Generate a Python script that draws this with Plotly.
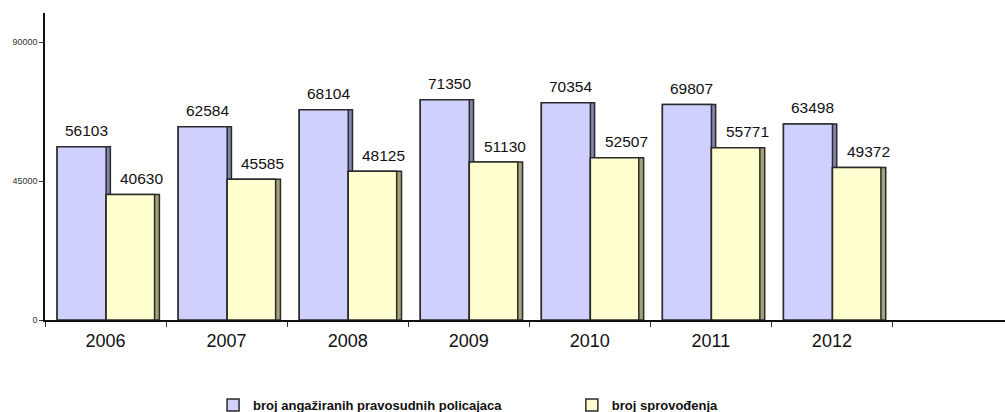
import plotly.graph_objects as go

years = ["2006", "2007", "2008", "2009", "2010", "2011", "2012"]
policajci = [56103, 62584, 68104, 71350, 70354, 69807, 63498]
sprovodjenja = [40630, 45585, 48125, 51130, 52507, 55771, 49372]

name_a = "broj angažiranih pravosudnih policajaca"
name_b = "broj sprovođenja"

x = list(range(len(years)))
line = dict(color="#2b2b2b", width=1.5)

fig = go.Figure()

# fake 3D depth: darker strip behind each bar, shifted right a few pixels
fig.add_trace(go.Bar(x=x, y=policajci, width=0.44, offset=-0.40,
                     marker=dict(color="#8383b0", line=line), showlegend=False, hoverinfo="skip"))
fig.add_trace(go.Bar(x=x, y=policajci, width=0.405, offset=-0.40, name=name_a, legend="legend",
                     marker=dict(color="#d0d0ff", line=line)))
fig.add_trace(go.Bar(x=x, y=sprovodjenja, width=0.44, offset=0.005,
                     marker=dict(color="#a3a37a", line=line), showlegend=False, hoverinfo="skip"))
fig.add_trace(go.Bar(x=x, y=sprovodjenja, width=0.40, offset=0.005, name=name_b, legend="legend2",
                     marker=dict(color="#ffffd0", line=line)))

# value labels above the bars (Excel puts them slightly right of the bar centre)
for i in x:
    fig.add_annotation(x=i - 0.16, y=policajci[i], text=str(policajci[i]), showarrow=False,
                       yanchor="middle", yshift=16, font=dict(size=15.5, color="#111"))
    fig.add_annotation(x=i + 0.3, y=sprovodjenja[i], text=str(sprovodjenja[i]), showarrow=False,
                       yanchor="middle", yshift=16, font=dict(size=15.5, color="#111"))

legend_style = dict(orientation="h", xref="container", yref="container", xanchor="left",
                    yanchor="middle", y=0.017, itemwidth=30, bgcolor="rgba(0,0,0,0)",
                    font=dict(size=13, color="#111", weight="bold"))

fig.update_layout(
    width=1005, height=412,
    margin=dict(l=45, r=0, t=13, b=92),
    barmode="overlay",
    paper_bgcolor="white", plot_bgcolor="white",
    font=dict(family="Liberation Sans, Arial, sans-serif", color="#111"),
    showlegend=True,
    legend=dict(x=0.212, **legend_style),
    legend2=dict(x=0.569, **legend_style),
)
fig.update_xaxes(
    type="category", tickson="boundaries", automargin=False,
    tickmode="array", tickvals=x, ticktext=years,
    range=[-0.5, 7.43], showline=True, linecolor="#111", linewidth=1.5,
    ticks="outside", ticklen=5, tickcolor="#333", showgrid=False, zeroline=False,
    ticklabelstandoff=4, tickfont=dict(size=18, color="#111"),
)
fig.update_yaxes(
    range=[0, 99400], tickvals=[0, 45000, 90000], ticktext=["0", "45000", "90000"],
    automargin=False,
    showline=True, linecolor="#111", linewidth=1.5, ticks="outside", ticklen=4,
    tickcolor="#333", showgrid=False, zeroline=False, tickfont=dict(size=9, color="#333"),
)

# drop the default body margin so the figure sits at the page corner
fig.write_html("out.html", config={"displayModeBar": False},
               post_script="document.body.style.margin='0';")
